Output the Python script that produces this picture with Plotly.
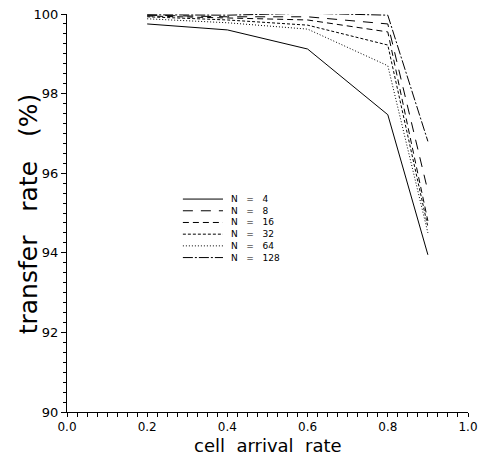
import plotly.graph_objects as go

x_rate = [0.2, 0.4, 0.6, 0.8, 0.9]
n_labels = ["N   =   4", "N   =   8", "N   =   16", "N   =   32", "N   =   64", "N   =   128"]
rate_n4 = [99.75, 99.6, 99.12, 97.47, 93.95]
rate_n8 = [99.97, 99.93, 99.93, 99.75, 95.55]
rate_n16 = [99.95, 99.9, 99.85, 99.55, 94.8]
rate_n32 = [99.93, 99.85, 99.72, 99.22, 94.65]
rate_n64 = [99.88, 99.78, 99.62, 98.7, 94.5]
rate_n128 = [99.98, 99.97, 100.02, 99.97, 96.8]
series = [rate_n4, rate_n8, rate_n16, rate_n32, rate_n64, rate_n128]
dashes = ["solid", "10px,8px", "6px,4px", "3px,2px", "1px,2px", "10px,2px,2px,2px"]

x_ticks = [0.0, 0.2, 0.4, 0.6, 0.8, 1.0]
y_ticks = [90, 92, 94, 96, 98, 100]

fig = go.Figure()
for name, ys, d in zip(n_labels, series, dashes):
    fig.add_trace(go.Scatter(x=x_rate, y=ys, mode="lines", name=name,
                             line=dict(color="black", width=1, dash=d),
                             showlegend=False, cliponaxis=False, hoverinfo="skip"))

# manual legend: sample lines + one multi-line label block
shapes = []
lx0, lx1 = 0.289, 0.389
ly0 = 0.535
step = 11.7 / 398
for i, d in enumerate(dashes):
    yy = ly0 - i * step
    shapes.append(dict(type="line", xref="paper", yref="paper", x0=lx0, x1=lx1,
                       y0=yy, y1=yy, line=dict(color="black", width=1, dash=d)))

annotations = [
    dict(xref="paper", yref="paper", x=0.404, y=ly0 + step / 2 + 0.002, text="<br>".join(n_labels),
         showarrow=False, xanchor="left", yanchor="top", align="left",
         font=dict(size=9, color="black", family="DejaVu Sans")),
    dict(xref="paper", yref="paper", x=0.501, y=-0.084, text="cell  arrival  rate",
         showarrow=False, xanchor="center", yanchor="middle",
         font=dict(size=18, color="black", family="DejaVu Sans")),
    dict(xref="paper", yref="paper", x=-0.097, y=0.497, text="transfer   rate   (%)",
         showarrow=False, xanchor="center", yanchor="middle", textangle=-90,
         font=dict(size=25, color="black", family="DejaVu Sans")),
]

fig.update_layout(
    width=487, height=456,
    margin=dict(l=67, r=19, t=14, b=44, autoexpand=False),
    paper_bgcolor="white", plot_bgcolor="white",
    font=dict(family="DejaVu Sans", color="black"),
    shapes=shapes, annotations=annotations,
    xaxis=dict(range=[0, 1], tickvals=x_ticks, ticktext=[f"{v:.1f}" for v in x_ticks],
               automargin=False,
               showgrid=False, zeroline=False, showline=True, linecolor="black", linewidth=1,
               ticks="outside", ticklen=4, tickcolor="black",
               minor=dict(dtick=0.025, ticks="outside", ticklen=4, tickcolor="black"),
               tickfont=dict(size=12)),
    yaxis=dict(range=[90, 100], tickvals=y_ticks, ticktext=[str(v) for v in y_ticks],
               automargin=False,
               showgrid=False, zeroline=False, showline=True, linecolor="black", linewidth=1,
               ticks="outside", ticklen=5, tickcolor="black",
               minor=dict(dtick=0.25, ticks="outside", ticklen=3, tickcolor="black"),
               tickfont=dict(size=13)),
)

fig.write_html("out.html", config={"displayModeBar": False},
               post_script="document.body.style.margin='0';document.body.style.padding='0';")
